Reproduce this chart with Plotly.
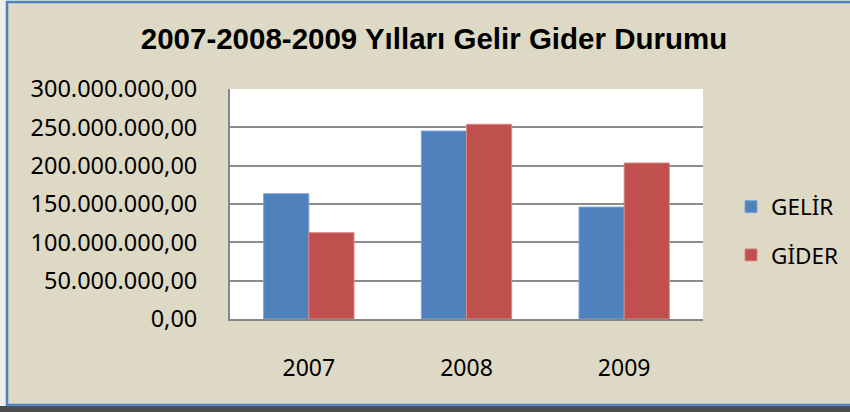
import plotly.graph_objects as go

years = ["2007", "2008", "2009"]
gelir = [163400000, 245200000, 146000000]
gider = [112600000, 254000000, 203500000]
y_ticks = [0, 50000000, 100000000, 150000000, 200000000, 250000000, 300000000]

W, H = 850, 412
L, R, T, B = 230, 703, 89, 319
pw, ph = R - L, B - T

def px(x):
    return (x - L) / pw

def py(y):
    return (B - y) / ph

fig = go.Figure()
fig.add_trace(go.Bar(name="GELİR", x=years, y=gelir, marker_color="#4F81BD",
                     marker_line=dict(color="#7fa3d3", width=1), legendgroup="a"))
fig.add_trace(go.Bar(name="GİDER", x=years, y=gider, marker_color="#C0504D",
                     marker_line=dict(color="#d58a88", width=1), legendgroup="b"))

shapes = [
    dict(type="rect", xref="paper", yref="paper", x0=px(-5), x1=px(W + 5), y0=py(-5), y1=py(H + 5),
         fillcolor="#eeeeee", line=dict(width=0), layer="below"),
    dict(type="rect", xref="paper", yref="paper", x0=px(-5), x1=px(W + 5), y0=py(H + 5), y1=py(406),
         fillcolor="#4d4d4d", line=dict(width=0), layer="below"),
    dict(type="rect", xref="paper", yref="paper", x0=px(7), x1=px(W + 10), y0=py(405), y1=py(2),
         fillcolor="#DDD9C4", line=dict(color="#4F81BD", width=2.5), layer="below"),
    dict(type="rect", xref="paper", yref="paper", x0=0, x1=1, y0=0, y1=1,
         fillcolor="white", line=dict(width=0), layer="below"),
]

fig.update_layout(
    width=W, height=H,
    margin=dict(l=L, r=W - R, t=T, b=H - B, pad=0, autoexpand=False),
    paper_bgcolor="#DDD9C4",
    plot_bgcolor="white",
    separators=",.",
    barmode="group",
    bargap=0.427,
    bargroupgap=0,
    shapes=shapes,
    title=dict(text="<b>2007-2008-2009 Yılları Gelir Gider Durumu</b>",
               x=434 / W, xref="container", xanchor="center", y=1 - 39 / H, yanchor="middle",
               font=dict(family="Liberation Sans, Arial", size=29.5, color="black")),
    font=dict(family="Noto Sans, Open Sans", size=23, color="black"),
    legend=dict(x=px(731), xanchor="left", y=py(231), yanchor="middle",
                bgcolor="rgba(0,0,0,0)", traceorder="grouped", tracegroupgap=16,
                font=dict(family="Noto Sans", size=22.5), itemwidth=30),
    xaxis=dict(showline=True, linecolor="#868686", linewidth=2, ticks="",
               ticklabelstandoff=27, tickfont=dict(size=23), showgrid=False),
    yaxis=dict(range=[0, 300000000], tickvals=y_ticks, tickformat=",.2f",
               showline=True, linecolor="#868686", linewidth=2,
               showgrid=True, gridcolor="#8c8c8c", gridwidth=2, ticks="",
               ticklabelstandoff=26, tickfont=dict(size=23.5), zeroline=False),
)

fig.write_html("out.html", config={"displayModeBar": False},
               post_script="document.body.style.margin='0px';")
